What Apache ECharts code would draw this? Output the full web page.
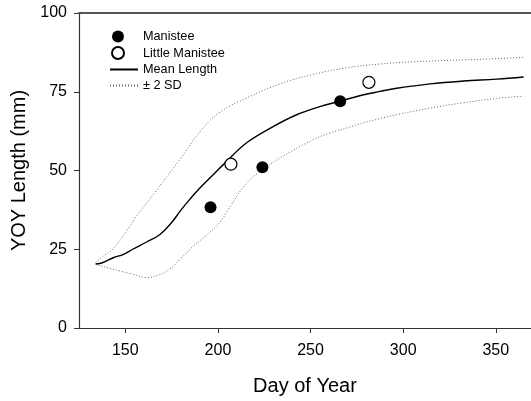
<!DOCTYPE html>
<html>
<head>
<meta charset="utf-8">
<script src="https://cdn.jsdelivr.net/npm/echarts@6/dist/echarts.min.js"></script>
<style>html,body{margin:0;padding:0;background:#fff;}#c{width:531px;height:401px;}</style>
</head>
<body>
<div id="c"></div>
<script>
const meanX = [134,138,143.5,149,154,161.5,168.7,175,180,185,190,197,204,215.5,230,242.5,255,266,277,287.5,296.5,314.5,332.5,350.5,365];
const meanY = [20.3,20.8,22.3,23.4,25,27.3,29.7,33.5,37.4,41,44.3,48.4,52.5,58.8,64,67.7,70.3,72,73.8,75.1,76.1,77.5,78.4,79,79.7];
const upX = [134,138.5,143.5,150.7,156,162.4,170,179.5,190.3,201,215.5,233.5,251.5,269.5,287.5,305,332.5,350,365];
const upY = [20.8,23,25.2,30.8,35.5,40.3,46.2,53.5,62.3,68.5,73,77.5,80.5,82.6,83.8,84.5,85.1,85.5,85.9];
const loX = [134,140,147,154,161.5,168.7,174,179.5,186.7,194,201,206,215.5,226,233.5,251.5,260.5,269.5,278.5,287.5,296.5,314.5,332.5,350.5,365];
const loY = [20.3,19.2,18.1,17.1,16,17,18.7,21.8,26,29.5,33.5,38,46,51,54,59.8,61.9,63.5,65.1,66.5,67.7,69.8,71.5,72.9,73.6];
const manisteeX = [196,224,266];
const manisteeY = [38.3,51,72];
const littleX = [207,281.5];
const littleY = [52,78];
const xTicks = [150,200,250,300,350];
const yTicks = [0,25,50,75,100];

const zip = (a,b) => a.map((v,i)=>[v,b[i]]);
const FONT = 'Liberation Sans, Arial, sans-serif';
const axisColor = '#333';

const chart = echarts.init(document.getElementById('c'), null, {renderer:'canvas'});
chart.setOption({
  animation:false,
  backgroundColor:'#fff',
  textStyle:{fontFamily:FONT},
  grid:{left:79, top:13, right:0, bottom:72, containLabel:false},
  legend:[
    {data:[{name:'Manistee', icon:'circle'},{name:'Little Manistee', icon:'circle'}],
     orient:'vertical', left:106, top:25, itemWidth:12, itemHeight:12, itemGap:3,
     textStyle:{fontSize:12.7, color:'#000', fontFamily:FONT, lineHeight:12, padding:[0,0,0,14]}},
    {data:['Mean Length','± 2 SD'],
     orient:'vertical', left:104, top:58, itemWidth:28, itemHeight:12, itemGap:3,
     itemStyle:{opacity:0, color:'transparent', borderWidth:0},
     textStyle:{fontSize:12.7, color:'#000', fontFamily:FONT, lineHeight:12, padding:[0,0,0,0]}}
  ],
  xAxis:[{
    type:'value', min:125, max:369, position:'bottom',
    name:'Day of Year', nameLocation:'middle', nameGap:48,
    nameTextStyle:{fontSize:20, color:'#000', fontFamily:FONT},
    axisLine:{show:true, lineStyle:{color:axisColor, width:1.2}},
    axisTick:{show:true, inside:false, length:5, customValues:xTicks, lineStyle:{color:axisColor}},
    axisLabel:{fontSize:16, color:'#000', margin:15, customValues:xTicks, fontFamily:FONT},
    splitLine:{show:false}
  },{
    type:'value', min:125, max:369, position:'top',
    axisLine:{show:true, onZero:false, lineStyle:{color:'#555', width:2}},
    axisTick:{show:false}, axisLabel:{show:false}, splitLine:{show:false}
  }],
  yAxis:{
    type:'value', min:0, max:100, interval:25,
    name:'YOY Length (mm)', nameLocation:'middle', nameGap:47,
    nameTextStyle:{fontSize:20, color:'#000', fontFamily:FONT},
    axisLine:{show:true, lineStyle:{color:axisColor, width:1.2}},
    axisTick:{show:true, inside:false, length:5, lineStyle:{color:axisColor}},
    axisLabel:{fontSize:16, color:'#000', margin:12, fontFamily:FONT},
    splitLine:{show:false}
  },
  series:[
    {name:'± 2 SD', type:'line', data:zip(upX,upY), smooth:0.4, showSymbol:false, symbol:'none',
     lineStyle:{color:'#666', width:1, type:[1,2]}, itemStyle:{color:'#666'}},
    {name:'± 2 SD', type:'line', data:zip(loX,loY), smooth:0.4, showSymbol:false, symbol:'none',
     lineStyle:{color:'#666', width:1, type:[1,2]}, itemStyle:{color:'#666'}},
    {name:'Mean Length', type:'line', data:zip(meanX,meanY), smooth:0.4, showSymbol:false, symbol:'none',
     lineStyle:{color:'#000', width:1.4}, itemStyle:{color:'#000'}},
    {name:'Manistee', type:'scatter', data:zip(manisteeX,manisteeY), symbol:'circle', symbolSize:12,
     itemStyle:{color:'#000', opacity:1}, z:5},
    {name:'Little Manistee', type:'scatter', data:zip(littleX,littleY), symbol:'circle', symbolSize:12,
     itemStyle:{color:'#fff', borderColor:'#000', borderWidth:1.2, opacity:1}, z:5}
  ]
});
</script>
</body>
</html>
